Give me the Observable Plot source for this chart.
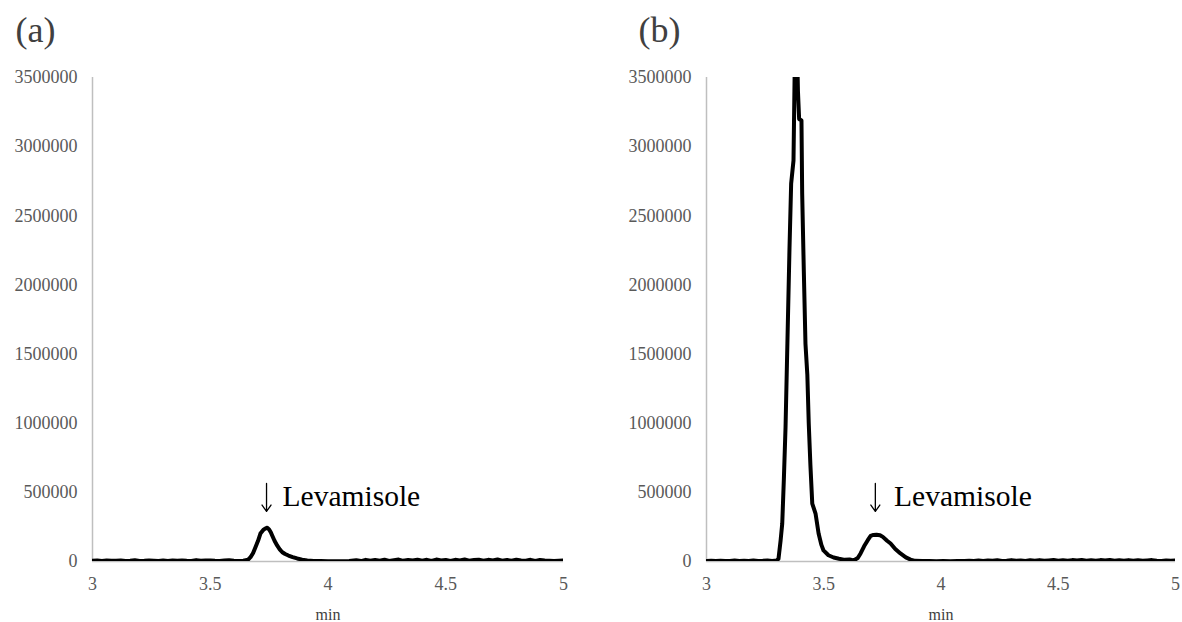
<!DOCTYPE html>
<html>
<head>
<meta charset="utf-8">
<script src="https://cdn.jsdelivr.net/npm/d3@7"></script>
<script src="https://cdn.jsdelivr.net/npm/@observablehq/plot@0.6"></script>
<style>
  html, body { margin: 0; padding: 0; background: white; }
  #wrap { display: flex; width: 1182px; height: 622px; }
  #wrap svg { display: block; flex: none; }
</style>
</head>
<body>
<div id="wrap"></div>
<script>
// ---------- data ----------
const xTicks = [3, 3.5, 4, 4.5, 5];
const yTicks = [0, 500000, 1000000, 1500000, 2000000, 2500000, 3000000, 3500000];
const panelTags = ["(a)", "(b)"];
const annotationText = "Levamisole";
const annotationX = [3.807, 3.800];     // start of the word
const annotationY = [398000, 398000];   // baseline of the word
const arrowX = [3.739, 3.720];
const arrowTop = [564000, 564000];
const arrowTip = [362000, 362000];
const axisTitle = "min";

// panel (a): retention time (min) and intensity
const tA = [
  3.00,3.02,3.04,3.06,3.08,3.10,3.12,3.14,3.16,3.18,
  3.20,3.22,3.24,3.26,3.28,3.30,3.32,3.34,3.36,3.38,
  3.40,3.42,3.44,3.46,3.48,3.50,3.52,3.54,3.56,3.58,
  3.60,3.62,3.64,3.66,
  3.671,3.682,3.692,3.703,3.713,3.725,3.735,3.742,3.750,3.757,
  3.763,3.773,3.784,3.795,3.806,3.818,3.832,3.850,3.869,3.890,3.912,
  3.94,3.97,4.00,4.03,4.06,4.09,
  4.12,4.14,4.16,4.18,4.20,4.22,4.24,4.26,4.28,4.30,
  4.32,4.34,4.36,4.38,4.40,4.42,4.44,4.46,4.48,4.50,
  4.52,4.54,4.56,4.58,4.60,4.62,4.64,4.66,4.68,4.70,
  4.72,4.74,4.76,4.78,4.80,4.82,4.84,4.86,4.88,4.90,
  4.92,4.94,4.96,4.98,5.00
];
const vA = [
  5000,7000,4000,8000,5000,5000,7000,3000,5000,9000,
  4000,5000,7000,5000,3000,7000,4000,8000,5000,7000,
  5000,4000,10000,5000,7000,8000,5000,4000,7000,9000,
  5000,4000,6000,12000,
  31000,62000,103000,150000,202000,228000,240000,244000,232000,212000,
  188000,150000,116000,88000,67000,54000,43000,32000,22000,13000,7000,
  4000,3000,2500,2500,2000,3000,
  9000,3000,12000,5000,11000,6000,13000,4000,10000,14000,
  5000,11000,7000,13000,6000,12000,4000,14000,7000,11000,
  4000,12000,8000,14000,6000,11000,13000,5000,12000,7000,
  14000,6000,11000,5000,13000,8000,6000,12000,4000,11000,
  7000,5000,3000,6000,8000
];

// panel (b): retention time (min) and intensity
const tB = [
  3.00,3.02,3.04,3.06,3.08,3.10,3.12,3.14,3.16,3.18,
  3.20,3.22,3.24,3.26,3.28,3.30,
  3.307,3.316,3.323,3.330,3.337,3.344,3.354,3.361,3.371,3.378,
  3.384,3.390,3.395,3.405,3.408,3.415,3.422,3.430,3.436,3.443,
  3.451,3.465,3.478,3.490,3.499,3.520,3.542,3.565,3.590,3.610,
  3.627,3.645,3.657,3.672,3.687,3.700,3.712,3.725,3.740,3.752,
  3.770,3.785,3.805,3.827,3.850,3.870,3.890,
  3.92,3.95,3.98,4.01,4.04,4.07,4.10,
  4.12,4.14,4.16,4.18,4.20,4.22,4.24,4.26,4.28,4.30,
  4.32,4.34,4.36,4.38,4.40,4.42,4.44,4.46,4.48,4.50,
  4.52,4.54,4.56,4.58,4.60,4.62,4.64,4.66,4.68,4.70,
  4.72,4.74,4.76,4.78,4.80,4.82,4.84,4.86,4.88,4.90,
  4.92,4.94,4.96,4.98,5.00
];
const vB = [
  3000,5000,3000,6000,4000,3000,7000,4000,5000,3000,
  8000,4000,5000,7000,4000,8000,
  20000,152000,275000,600000,969000,1504000,2271000,2733000,2900000,3800000,
  3900000,3400000,3200000,3189000,2661000,2100000,1576000,1350000,1000000,700000,
  419000,347000,202000,120000,80000,45000,29000,20000,12000,15000,
  7000,25000,58000,110000,152000,185000,192000,194000,190000,178000,
  150000,130000,90000,58000,30000,14000,5000,
  3000,3000,2500,3000,2500,3000,4000,
  6000,3000,7000,4000,8000,5000,9000,4000,6000,10000,
  5000,8000,4000,9000,6000,10000,5000,8000,11000,6000,
  9000,5000,10000,7000,11000,6000,9000,5000,10000,7000,
  11000,6000,9000,5000,10000,6000,9000,5000,8000,10000,
  6000,4000,8000,5000,7000
];

// ---------- drawing ----------
const fmt = d => String(d);
const font = "'Liberation Serif', 'Times New Roman', serif";

function panel(t, v, i, opts) {
  const data = t.map((tt, k) => ({t: tt, v: v[k]}));
  return Plot.plot({
    width: 591,
    height: 622,
    marginTop: 77,
    marginBottom: 61,
    marginLeft: opts.marginLeft,
    marginRight: opts.marginRight,
    style: {fontFamily: font, fontSize: "18px", color: "#595959", background: "white", overflow: "visible"},
    x: {domain: [3, 5], ticks: xTicks, tickFormat: fmt, tickSize: 0, tickPadding: 16, label: null},
    y: {domain: [0, 3500000], ticks: yTicks, tickFormat: fmt, tickSize: 0, tickPadding: 15, label: null},
    marks: [
      Plot.ruleY([0], {stroke: "#bfbfbf", strokeWidth: 1.5}),
      Plot.ruleX([3], {stroke: "#bfbfbf", strokeWidth: 1.5}),
      Plot.line(data, {x: "t", y: "v", stroke: "black", strokeWidth: 4, strokeLinejoin: "round", strokeLinecap: "round", clip: true}),
      Plot.arrow([0], {x1: () => arrowX[i], x2: () => arrowX[i], y1: () => arrowTop[i], y2: () => arrowTip[i],
        stroke: "black", strokeWidth: 1.3, headLength: 9, headAngle: 70}),
      Plot.text([annotationText], {x: annotationX[i], y: annotationY[i], text: d => d, textAnchor: "start", lineAnchor: "bottom", fontSize: 29.5, fill: "black", fontFamily: font}),
      Plot.text([panelTags[i]], {frameAnchor: "top-left", text: d => d, dx: opts.tagDx, dy: -36, textAnchor: "start", lineAnchor: "bottom", fontSize: 36, fill: "#404040", fontFamily: font}),
      Plot.text([axisTitle], {frameAnchor: "bottom", text: d => d, dy: 58, lineAnchor: "bottom", fontSize: 16, fill: "#404040", fontFamily: font})
    ]
  });
}

const wrap = document.getElementById("wrap");
wrap.appendChild(panel(tA, vA, 0, {marginLeft: 92, marginRight: 28, tagDx: -77}));
wrap.appendChild(panel(tB, vB, 1, {marginLeft: 115, marginRight: 7, tagDx: -68}));
</script>
</body>
</html>
